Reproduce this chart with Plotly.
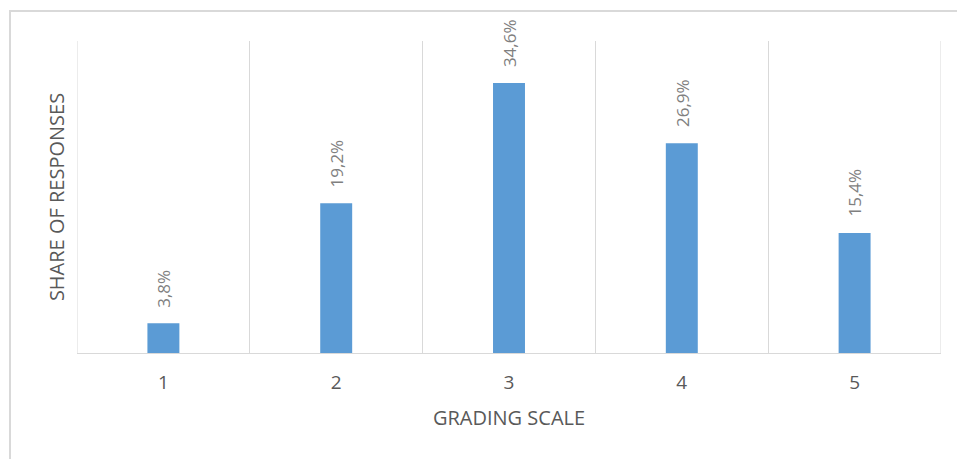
import plotly.graph_objects as go

# Share of responses per grade
grades = [1, 2, 3, 4, 5]
shares = [3.8, 19.2, 34.6, 26.9, 15.4]
labels = [f"{v:.1f}%".replace(".", ",") for v in shares]

bar_color = "#5b9bd5"
grid_color = "#d9d9d9"
font_family = "Open Sans, Liberation Sans, sans-serif"

fig = go.Figure()
fig.add_trace(go.Bar(
    x=grades,
    y=shares,
    width=0.185,
    marker=dict(color=bar_color, line=dict(width=0)),
    hoverinfo="skip",
))

# Rotated value labels above each bar
for g, v, t in zip(grades, shares, labels):
    fig.add_annotation(
        x=g, y=v, text=t, textangle=-90,
        showarrow=False, xanchor="center", yanchor="bottom",
        yshift=14,
        font=dict(family=font_family, size=17, color="#7f7f7f"),
    )

# Category separators at the outer edges of the plot area
for edge in (grades[0] - 0.5, grades[-1] + 0.5):
    fig.add_shape(
        type="line", xref="x", yref="paper",
        x0=edge, x1=edge, y0=0, y1=1,
        line=dict(color=grid_color, width=1), layer="below",
    )

# Light outer frame of the chart
fig.add_shape(
    type="rect", xref="paper", yref="paper",
    x0=-67 / 864, x1=1.2, y0=-0.5, y1=1 + 30 / 312,
    line=dict(color=grid_color, width=2), layer="below",
)

fig.update_layout(
    width=957, height=459,
    margin=dict(l=77, r=16, t=41, b=106),
    paper_bgcolor="white",
    plot_bgcolor="white",
    showlegend=False,
    font=dict(family=font_family, color="#595959"),
    xaxis=dict(
        range=[0.5, 5.5],
        tickvals=grades,
        ticktext=[str(g) for g in grades],
        showgrid=False,
        zeroline=False,
        showline=True, linecolor=grid_color, linewidth=1,
        ticks="",
        ticklabelstandoff=12,
        tickfont=dict(size=19, color="#595959"),
        minor=dict(tick0=0.5, dtick=1, showgrid=True,
                   gridcolor=grid_color, gridwidth=1),
        title=dict(text="GRADING SCALE", standoff=17,
                   font=dict(size=20, color="#595959")),
        fixedrange=True,
    ),
    yaxis=dict(
        range=[0, 40],
        showgrid=False,
        zeroline=False,
        showticklabels=False,
        ticks="",
        title=dict(text="SHARE OF RESPONSES", standoff=6,
                   font=dict(size=20, color="#595959")),
        fixedrange=True,
    ),
)

fig.write_html("out.html")
